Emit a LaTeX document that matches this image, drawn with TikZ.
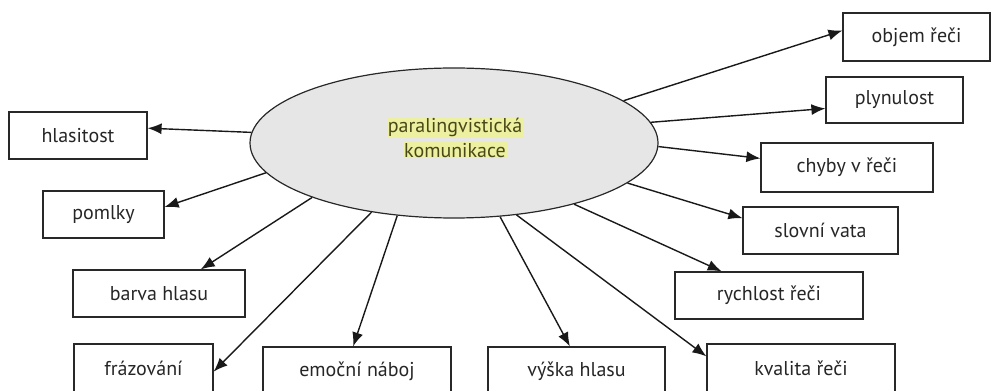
\documentclass[tikz,border=0pt]{standalone}
\usepackage{fontspec}
\setmainfont{PT Sans}
\usetikzlibrary{shapes.geometric,arrows.meta}
\definecolor{ellfill}{RGB}{230,230,230}
\definecolor{linegray}{RGB}{40,40,40}
\definecolor{hilite}{RGB}{236,240,160}
\definecolor{hltext}{RGB}{72,72,24}
\begin{document}
\begin{tikzpicture}[x=1pt,y=1pt,
    boxnode/.style={draw=linegray, line width=1.2pt, minimum height=47pt, inner sep=0pt,
        font=\fontsize{20}{24}\selectfont, text=black!85},
    hlnode/.style={fill=hilite, inner sep=0.8pt, text=hltext,
        font=\fontsize{20}{24}\selectfont},
    arr/.style={-{Latex[length=14pt,width=11pt]}, line width=1.4pt, draw=black!90}]
    \useasboundingbox (0,0) rectangle (991,391);

    % centre
    \node[ellipse, draw=linegray, fill=ellfill, line width=1.2pt, inner sep=0pt,
        minimum width=408pt, minimum height=150pt] (ell) at (454,248) {};
    \node[hlnode] (pl1) at (455,263.5) {paralingvistická};
    \node[hlnode] (pl2) at (455,240.5) {komunikace};

    % boxes on the left
    \node[boxnode, minimum width=138pt] (hl) at (78,255.5) {hlasitost};
    \node[boxnode, minimum width=121pt] (po) at (103.5,176.5) {pomlky};
    \node[boxnode, minimum width=172pt] (bh) at (159,97.5) {barva hlasu};
    \node[boxnode, minimum width=139pt, minimum height=48pt] (fr) at (143.5,23) {frázování};

    % boxes at the bottom
    \node[boxnode, minimum width=188pt, minimum height=48pt] (em) at (357,20) {emoční náboj};
    \node[boxnode, minimum width=177pt, minimum height=48pt] (vy) at (576.5,20) {výška hlasu};
    \node[boxnode, minimum width=188pt, minimum height=48pt] (kv) at (801,23) {kvalita řeči};

    % boxes on the right
    \node[boxnode, minimum width=188pt] (ry) at (769,95.5) {rychlost řeči};
    \node[boxnode, minimum width=155pt] (sv) at (820.5,160.5) {slovní vata};
    \node[boxnode, minimum width=172pt, minimum height=49pt] (ch) at (847,223.5) {chyby v řeči};
    \node[boxnode, minimum width=137pt, minimum height=46pt] (pl) at (894.5,291) {plynulost};
    \node[boxnode, minimum width=147pt, minimum height=48pt] (ob) at (916.5,354) {objem řeči};

    % arrows
    \draw[arr] (ell.177) -- (hl.6);
    \draw[arr] (ell.189) -- (po.7);
    \draw[arr] (ell.201) -- (bh.30);
    \draw[arr] (ell.220) -- (fr.-3);
    \draw[arr] (ell.232) -- (em.99);
    \draw[arr] (ell.-58) -- (vy.105);
    \draw[arr] (ell.-49) -- (kv.173);
    \draw[arr] (ell.-27.5) -- (ry.153);
    \draw[arr] (ell.-13) -- (sv.171);
    \draw[arr] (ell.-1) -- (ch.174);
    \draw[arr] (ell.6) -- (pl.187);
    \draw[arr] (ell.14) -- (ob.175);
\end{tikzpicture}
\end{document}
